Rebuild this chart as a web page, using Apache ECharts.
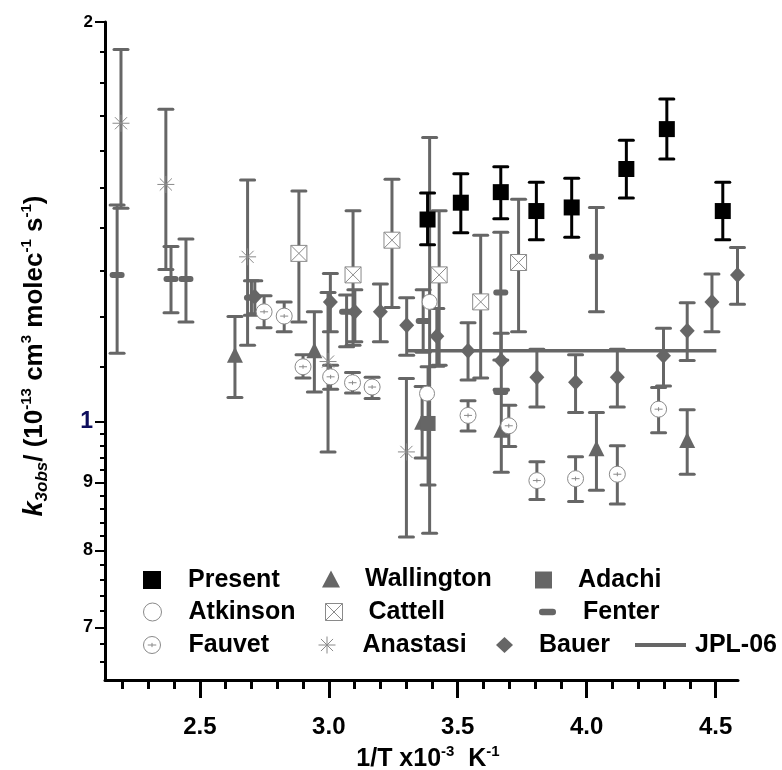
<!DOCTYPE html>
<html><head><meta charset="utf-8">
<script src="https://cdn.jsdelivr.net/npm/echarts@6/dist/echarts.min.js"></script>
<style>html,body{margin:0;padding:0;background:#fff}#c{width:782px;height:770px}</style>
</head><body><div id="c"></div>
<script>
// ---------------- data ----------------
const presentX  = [3.383, 3.512, 3.667, 3.805, 3.942, 4.154, 4.311, 4.528];
const presentY  = [1.420, 1.462, 1.489, 1.441, 1.450, 1.550, 1.661, 1.441];
const presentLo = [1.359, 1.388, 1.422, 1.371, 1.377, 1.474, 1.577, 1.371];
const presentHi = [1.487, 1.537, 1.556, 1.515, 1.525, 1.629, 1.750, 1.515];

const wallX  = [2.636, 2.944, 3.362, 3.669, 4.038, 4.390];
const wallY  = [1.123, 1.132, 1.000, 0.986, 0.955, 0.969];
const wallLo = [1.043, 1.053, 0.939, 0.916, 0.888, 0.913];
const wallHi = [1.200, 1.210, 1.063, 1.056, 1.016, 1.021];

const adachiX  = [3.385];
const adachiY  = [0.997];
const adachiLo = [0.896];
const adachiHi = [1.100];

const atkX  = [3.391, 3.381];
const atkY  = [1.231, 1.050];
const atkLo = [0.824, null];
const atkHi = [1.637, null];

const catX  = [2.884, 3.094, 3.245, 3.428, 3.589, 3.736];
const catY  = [1.339, 1.290, 1.370, 1.290, 1.231, 1.318];
const catLo = [1.189, 1.142, 1.219, 1.103, 1.079, 1.169];
const catHi = [1.492, 1.442, 1.523, 1.442, 1.382, 1.471];

const fenX  = [2.179, 2.388, 2.446, 2.700, 3.069, 3.366, 3.667, 3.667, 4.038];
const fenY  = [1.290, 1.281, 1.281, 1.240, 1.210, 1.191, 1.251, 1.053, 1.331];
const fenLo = [1.126, 1.208, 1.189, 1.203, 1.139, 1.128, 1.113, null, 1.210];
const fenHi = [1.456, 1.355, 1.373, 1.277, 1.246, 1.257, 1.389, null, 1.450];

const fauX  = [2.749, 2.827, 2.900, 3.007, 3.092, 3.168, 3.540, 3.698, 3.807, 3.957, 4.119, 4.279];
const fauY  = [1.210, 1.201, 1.100, 1.081, 1.070, 1.062, 1.011, 0.993, 0.903, 0.906, 0.913, 1.022];
const fauLo = [1.177, 1.169, 1.079, 1.058, 1.051, 1.041, 0.984, 0.958, 0.874, 0.871, 0.867, 0.981];
const fauHi = [1.244, 1.231, 1.123, 1.103, 1.089, 1.080, 1.037, 1.029, 0.933, 0.941, 0.959, 1.061];

const anaX  = [2.194, 2.368, 2.685, 2.997, 3.301];
const anaY  = [1.678, 1.509, 1.331, 1.110, 0.949];
const anaLo = [1.448, 1.302, 1.142, 0.949, 0.819];
const anaHi = [1.907, 1.719, 1.521, 1.251, 1.078];

const bauX  = [2.713, 3.006, 3.101, 3.200, 3.302, 3.419, 3.540, 3.669, 3.807, 3.957, 4.119, 4.298, 4.390, 4.486, 4.585];
const bauY  = [1.242, 1.231, 1.210, 1.210, 1.182, 1.160, 1.131, 1.112, 1.080, 1.071, 1.080, 1.121, 1.171, 1.231, 1.290];
const bauLo = [1.206, 1.169, 1.149, 1.149, 1.122, 1.101, 1.075, 1.058, 1.026, 1.016, 1.026, 1.064, 1.112, 1.169, 1.226];
const bauHi = [1.277, 1.293, 1.257, 1.270, 1.240, 1.217, 1.187, 1.166, 1.134, 1.123, 1.134, 1.176, 1.229, 1.292, 1.353];

const jplX = [3.307, 4.503];
const jplY = [1.131, 1.131];

const xMajorTicks = [2.5, 3.0, 3.5, 4.0, 4.5];
const xMinorTicks = [2.2, 2.3, 2.4, 2.6, 2.7, 2.8, 2.9, 3.1, 3.2, 3.3, 3.4, 3.6, 3.7, 3.8, 3.9, 4.1, 4.2, 4.3, 4.4];
const yMajorTicks = [0.7, 0.8, 0.9, 1, 2];
const yMinorTicks = [0.66, 0.68, 0.72, 0.74, 0.76, 0.78, 0.82, 0.84, 0.86, 0.88, 0.92, 0.94, 0.96, 0.98,
                     1.1, 1.2, 1.3, 1.4, 1.5, 1.6, 1.7, 1.8, 1.9];

// ---------------- styles ----------------
const FONT = '"Liberation Sans", Arial, sans-serif';
const GRAY = '#666666';
const OPEN = '#8a8a8a';
const SYM_PILL  = 'path://M3,0 L13,0 A3,3 0 0 1 13,6 L3,6 A3,3 0 0 1 3,0 Z';
const SYM_CPLUS = 'path://M0,8 A8,8 0 1 0 16,8 A8,8 0 1 0 0,8 Z M4,8 L12,8 M8,6 L8,10';
const SYM_BOXX  = 'path://M0,0 L16,0 L16,16 L0,16 Z M0,0 L16,16 M16,0 L0,16';
const SYM_AST   = 'path://M8,0 L8,16 M0,8 L16,8 M2.3,2.3 L13.7,13.7 M13.7,2.3 L2.3,13.7';

function pts(xs, ys) { return xs.map((x, i) => [x, ys[i]]); }
function errRows(xs, lo, hi) {
  const out = [];
  xs.forEach((x, i) => { if (lo[i] != null && hi[i] != null) out.push([x, lo[i], hi[i]]); });
  return out;
}
function makeErr(color, lw, half) {
  return function (params, api) {
    const x = api.value(0);
    const a = api.coord([x, api.value(1)]);
    const b = api.coord([x, api.value(2)]);
    const st = { stroke: color, lineWidth: lw, fill: null };
    const sc = { stroke: color, lineWidth: lw, fill: null, lineCap: 'round' };
    return { type: 'group', children: [
      { type: 'line', shape: { x1: a[0], y1: a[1], x2: b[0], y2: b[1] }, style: st },
      { type: 'line', shape: { x1: a[0] - half, y1: a[1], x2: a[0] + half, y2: a[1] }, style: sc },
      { type: 'line', shape: { x1: b[0] - half, y1: b[1], x2: b[0] + half, y2: b[1] }, style: sc }
    ]};
  };
}
function errSeries(name, xs, lo, hi, color, z) {
  return { type: 'custom', name: 'err-' + name, renderItem: makeErr(color, 3, 7),
           data: errRows(xs, lo, hi), encode: { x: 0, y: [1, 2] }, silent: true, z: z };
}
function openStyle() { return { color: '#ffffff', borderColor: OPEN, borderWidth: 1, opacity: 1 }; }
function fillStyle(c) { return { color: c, opacity: 1 }; }

const series = [
  errSeries('Wallington', wallX, wallLo, wallHi, GRAY, 2),
  errSeries('Adachi', adachiX, adachiLo, adachiHi, GRAY, 2),
  errSeries('Atkinson', atkX, atkLo, atkHi, GRAY, 2),
  errSeries('Cattell', catX, catLo, catHi, GRAY, 2),
  errSeries('Fenter', fenX, fenLo, fenHi, GRAY, 2),
  errSeries('Fauvet', fauX, fauLo, fauHi, GRAY, 2),
  errSeries('Anastasi', anaX, anaLo, anaHi, GRAY, 2),
  errSeries('Bauer', bauX, bauLo, bauHi, GRAY, 2),
  { type: 'line', name: 'JPL-06', data: pts(jplX, jplY), showSymbol: false, symbol: 'none',
    lineStyle: { color: GRAY, width: 3.5 }, itemStyle: { color: GRAY }, z: 3, silent: true },
  { type: 'scatter', name: 'Wallington', data: pts(wallX, wallY), symbol: 'triangle', symbolSize: [16, 16],
    itemStyle: fillStyle(GRAY), z: 4 },
  { type: 'scatter', name: 'Adachi', data: pts(adachiX, adachiY), symbol: 'rect', symbolSize: 15,
    itemStyle: fillStyle(GRAY), z: 4 },
  { type: 'scatter', name: 'Fenter', data: pts(fenX, fenY), symbol: SYM_PILL, symbolSize: [15, 6],
    itemStyle: fillStyle(GRAY), z: 4 },
  { type: 'scatter', name: 'Bauer', data: pts(bauX, bauY), symbol: 'diamond', symbolSize: [15, 16],
    itemStyle: fillStyle(GRAY), z: 4 },
  { type: 'scatter', name: 'Atkinson', data: pts(atkX, atkY), symbol: 'circle', symbolSize: 15,
    itemStyle: openStyle(), z: 4 },
  { type: 'scatter', name: 'Cattell', data: pts(catX, catY), symbol: SYM_BOXX, symbolSize: 16,
    itemStyle: openStyle(), z: 4 },
  { type: 'scatter', name: 'Fauvet', data: pts(fauX, fauY), symbol: SYM_CPLUS, symbolSize: 16,
    itemStyle: openStyle(), z: 4 },
  { type: 'scatter', name: 'Anastasi', data: pts(anaX, anaY), symbol: SYM_AST, symbolSize: 17,
    itemStyle: { color: 'rgba(0,0,0,0)', borderColor: OPEN, borderWidth: 1, opacity: 1 }, z: 4 },
  errSeries('Present', presentX, presentLo, presentHi, '#000000', 5),
  { type: 'scatter', name: 'Present', data: pts(presentX, presentY), symbol: 'rect', symbolSize: 16,
    itemStyle: fillStyle('#000000'), z: 6 }
];

function legendAt(name, iconLeft, rowCenter, w, h, textStart, extra, icon) {
  return Object.assign({
    show: true, data: [icon ? { name: name, icon: icon } : name], left: iconLeft, top: rowCenter - 12.5,
    itemWidth: w, itemHeight: h, padding: 0, selectedMode: false, orient: 'horizontal',
    textStyle: { fontSize: 25, fontWeight: 'bold', color: '#000', fontFamily: FONT,
                 padding: [0, 0, 0, textStart - (iconLeft + w + 5)] }
  }, extra || {});
}
const legends = [
  legendAt('Present', 143, 580, 18, 18, 188),
  legendAt('Wallington', 322, 579, 18, 17, 365),
  legendAt('Adachi', 535, 580, 17, 17, 578),
  legendAt('Atkinson', 143, 612, 18, 18, 188, { itemStyle: { borderWidth: 1 } }),
  legendAt('Cattell', 325, 612, 17, 17, 368, { itemStyle: { borderWidth: 1 } }),
  legendAt('Fenter', 539, 612, 17, 7, 583),
  legendAt('Fauvet', 143, 645, 17, 17, 188, { itemStyle: { borderWidth: 1 } }),
  legendAt('Anastasi', 318, 645, 17, 17, 362, { itemStyle: { borderWidth: 1 } }),
  legendAt('Bauer', 496, 645, 17, 16, 539),
  legendAt('JPL-06', 635, 645, 51, 4, 695, { itemStyle: { color: GRAY, borderWidth: 0, opacity: 1 } }, 'rect')
];

const X_MIN = 2.132, X_MAX = 4.587, Y_MIN = 0.639, Y_MAX = 2;

const option = {
  animation: false,
  backgroundColor: '#ffffff',
  grid: { left: 105, right: 44, top: 22, bottom: 90, containLabel: false, outerBoundsMode: 'none' },
  legend: legends,
  xAxis: [
    { type: 'value', min: X_MIN, max: X_MAX, position: 'bottom',
      axisLine: { show: true, onZero: false, lineStyle: { color: '#000', width: 3 } },
      axisTick: { show: true, customValues: xMajorTicks, length: 18, lineStyle: { color: '#000', width: 3 } },
      axisLabel: { show: true, customValues: xMajorTicks, formatter: v => Number(v).toFixed(1),
                   fontSize: 24, fontWeight: 'bold', color: '#000', fontFamily: FONT, margin: 35 },
      splitLine: { show: false },
      name: '1/T x10{sup|-3}  K{sup|-1}', nameLocation: 'middle', nameGap: 64, nameMoveOverlap: false,
      nameTextStyle: { fontSize: 25, fontWeight: 'bold', color: '#000', fontFamily: FONT, lineHeight: 30,
        padding: [0, 0, 0, 13],
        rich: { sup: { fontSize: 15, fontWeight: 'bold', color: '#000', fontFamily: FONT, verticalAlign: 'top', lineHeight: 16 } } } },
    { type: 'value', min: X_MIN, max: X_MAX, position: 'bottom',
      axisLine: { show: false, onZero: false },
      axisTick: { show: true, customValues: xMinorTicks, length: 9, lineStyle: { color: '#000', width: 3 } },
      axisLabel: { show: false }, splitLine: { show: false } }
  ],
  yAxis: [
    { type: 'log', logBase: 10, min: Y_MIN, max: Y_MAX, position: 'left',
      axisLine: { show: true, lineStyle: { color: '#000', width: 3 } },
      axisTick: { show: true, customValues: yMajorTicks, length: 10, lineStyle: { color: '#000', width: 2 } },
      axisLabel: { show: true, customValues: yMajorTicks, margin: 12,
        formatter: function (v) {
          const r = Math.round(v * 10) / 10;
          if (Math.abs(r - 1) < 1e-6) return '{one|1}';
          if (r >= 1.95) return '{two|2}';
          return '{d|' + Math.round(r * 10) + '}';
        },
        rich: {
          one: { fontSize: 23, fontWeight: 'bold', color: '#0d0d5c', fontFamily: FONT },
          two: { fontSize: 17, fontWeight: 'bold', color: '#000', fontFamily: FONT },
          d:   { fontSize: 18, fontWeight: 'bold', color: '#000', fontFamily: FONT }
        } },
      splitLine: { show: false },
      name: '{i|k}{sub|3obs}/ (10{sup|-13} cm{sup|3} molec{sup|-1} s{sup|-1})',
      nameLocation: 'middle', nameGap: 54, nameMoveOverlap: false,
      nameTextStyle: { fontSize: 26, fontWeight: 'bold', color: '#000', fontFamily: FONT, lineHeight: 32,
        padding: [0, 10, 0, 0],
        rich: {
          i:   { fontSize: 27, fontWeight: 'bold', fontStyle: 'italic', color: '#000', fontFamily: FONT },
          sub: { fontSize: 17, fontWeight: 'bold', fontStyle: 'italic', color: '#000', fontFamily: FONT, verticalAlign: 'bottom', lineHeight: 22 },
          sup: { fontSize: 15, fontWeight: 'bold', color: '#000', fontFamily: FONT, verticalAlign: 'top', lineHeight: 15 }
        } } },
    { type: 'log', logBase: 10, min: Y_MIN, max: Y_MAX, position: 'left',
      axisLine: { show: false },
      axisTick: { show: true, customValues: yMinorTicks, length: 5, lineStyle: { color: '#000', width: 2 } },
      axisLabel: { show: false }, splitLine: { show: false } }
  ],
  series: series
};

const chart = echarts.init(document.getElementById('c'), null, { renderer: 'canvas' });
chart.setOption(option);
</script>
</body></html>
